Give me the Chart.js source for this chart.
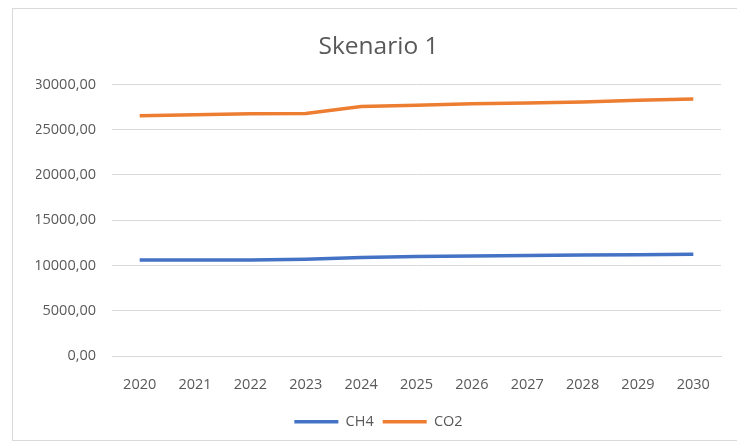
<!DOCTYPE html>
<html>
<head>
<meta charset="utf-8">
<script src="https://cdn.jsdelivr.net/npm/chart.js@4/dist/chart.umd.min.js"></script>
<style>
  html, body { margin: 0; padding: 0; background: #fff; overflow: hidden; }
  body { width: 737px; height: 445px; position: relative; }
  #frame { position: absolute; left: 12px; top: 8px; width: 800px; height: 431px; border: 1px solid #d9d9d9; }
  #wrap { position: absolute; left: 0; top: 0; width: 757px; height: 445px; }
</style>
</head>
<body>
<div id="frame"></div>
<div id="wrap"><canvas id="chart" width="757" height="445"></canvas></div>
<script>
// --- data ---
const years = ['2020', '2021', '2022', '2023', '2024', '2025', '2026', '2027', '2028', '2029', '2030'];
const ch4 = [10600, 10600, 10620, 10700, 10900, 11000, 11050, 11100, 11150, 11200, 11250];
const co2 = [26550, 26650, 26750, 26800, 27550, 27700, 27850, 27950, 28050, 28250, 28400];
const yTicks = [0, 5000, 10000, 15000, 20000, 25000, 30000];

const FONT = "'Open Sans', sans-serif";
const TEXT = '#595959';

const fmt = v => v.toFixed(2).replace('.', ',');

new Chart(document.getElementById('chart'), {
  type: 'line',
  data: {
    labels: years,
    datasets: [
      { label: 'CH4', data: ch4, borderColor: '#4472C4', backgroundColor: '#4472C4', borderWidth: 3.5, pointRadius: 0, tension: 0 },
      { label: 'CO2', data: co2, borderColor: '#ED7D31', backgroundColor: '#ED7D31', borderWidth: 3.5, pointRadius: 0, tension: 0 }
    ]
  },
  options: {
    responsive: false,
    animation: false,
    layout: { padding: { left: 36, right: 36, top: 0, bottom: 6 } },
    plugins: {
      title: {
        display: true, text: 'Skenario 1', color: TEXT,
        font: { family: FONT, size: 24.5, weight: 'normal' },
        padding: { top: 32, bottom: 23 }
      },
      legend: {
        position: 'bottom',
        labels: {
          color: TEXT, font: { family: FONT, size: 14.5 },
          usePointStyle: true, pointStyle: 'line', pointStyleWidth: 44, padding: 9
        }
      },
      tooltip: { enabled: false }
    },
    scales: {
      x: {
        offset: true,
        // pull the legend a little closer to the tick labels
        afterFit: s => { s.height -= 8; },
        grid: { display: false, drawTicks: false },
        border: { color: '#d9d9d9', width: 1 },
        ticks: { color: TEXT, font: { family: FONT, size: 14.5 }, padding: 20, maxRotation: 0 }
      },
      y: {
        min: 0, max: 30000,
        afterFit: s => { s.width = 76; },
        afterBuildTicks: s => { s.ticks = yTicks.map(v => ({ value: v })); },
        grid: { color: '#d9d9d9', drawTicks: false },
        border: { display: false },
        ticks: { color: TEXT, font: { family: FONT, size: 14.5 }, padding: 16, callback: v => fmt(v) }
      }
    }
  }
});
</script>
</body>
</html>
